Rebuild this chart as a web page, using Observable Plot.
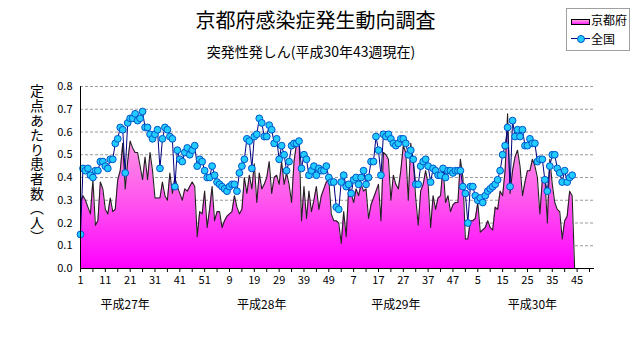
<!DOCTYPE html>
<html><head><meta charset="utf-8">
<script src="https://cdn.jsdelivr.net/npm/d3@7"></script>
<script src="https://cdn.jsdelivr.net/npm/@observablehq/plot@0.6"></script>
<style>
body{margin:0;background:#fff;}
#wrap{position:relative;width:631px;height:347px;font-family:"Noto Sans CJK JP",sans-serif;color:#000;overflow:hidden;}
#title{position:absolute;left:0;width:631px;top:8px;text-align:center;font-size:20px;line-height:24px;}
#subtitle{position:absolute;left:0;width:622px;top:42px;text-align:center;font-size:14px;line-height:18px;}
#ylabel{position:absolute;left:29px;top:84px;writing-mode:vertical-rl;font-size:14px;line-height:16px;letter-spacing:0.6px;}
#legend{position:absolute;left:566px;top:8px;width:62px;height:41px;border:1px solid #a0a0a0;background:#fff;font-size:12px;white-space:nowrap;}
#legend .sw{position:absolute;left:4px;top:10px;width:17px;height:4px;border:1px solid #000;background:linear-gradient(#ffa0e0,#ff20ff);}
#legend .ln{position:absolute;left:4px;top:29px;width:19px;height:1px;background:#000080;}
#legend .dt{position:absolute;left:10px;top:26px;width:6px;height:6px;border-radius:50%;background:#22ccff;border:1px solid #0055cc;}
#legend .t1{position:absolute;left:24px;top:3px;line-height:16px;}
#legend .t2{position:absolute;left:24px;top:22px;line-height:16px;}
#chart{position:absolute;left:0;top:0;}
</style></head><body>
<div id="wrap">
  <div id="chart"></div>
  <div id="title"></div>
  <div id="subtitle"></div>
  <div id="ylabel"></div>
  <div id="legend"><div class="sw"></div><div class="t1"></div><div class="ln"></div><div class="dt"></div><div class="t2"></div></div>
</div>
<script>
const titleText = "京都府感染症発生動向調査";
const subtitleText = "突発性発しん(平成30年43週現在)";
const yLabelText = "定点あたり患者数（人）";
const seriesNames = ["京都府", "全国"];
const yearLabels = ["平成27年", "平成28年", "平成29年", "平成30年"];
const xTickLabels = ["1","11","21","31","41","51","9","19","29","39","49","7","17","27","37","47","5","15","25","35","45"];
const yTickLabels = ["0.0","0.1","0.2","0.3","0.4","0.5","0.6","0.7","0.8"];

// 京都府 weekly values per sentinel, 平成27年第1週 onward (52 weeks per year)
const kyoto = [
0.29,0.32,0.30,0.27,0.24,0.39,0.19,0.21,0.38,0.35,0.26,0.24,0.31,0.25,0.26,0.39,0.43,0.55,0.35,0.47,
0.56,0.53,0.51,0.51,0.45,0.39,0.49,0.39,0.51,0.43,0.31,0.31,0.31,0.38,0.32,0.30,0.42,0.33,0.40,0.36,
0.33,0.30,0.35,0.34,0.36,0.38,0.36,0.14,0.25,0.24,0.34,0.18,0.26,0.36,0.21,0.25,0.25,0.18,0.21,0.23,
0.24,0.25,0.32,0.27,0.24,0.26,0.40,0.33,0.41,0.35,0.46,0.29,0.42,0.35,0.37,0.40,0.47,0.33,0.40,0.41,
0.37,0.47,0.37,0.42,0.37,0.29,0.47,0.55,0.57,0.21,0.36,0.22,0.34,0.25,0.30,0.36,0.26,0.32,0.35,0.38,
0.39,0.24,0.21,0.21,0.20,0.11,0.25,0.14,0.35,0.33,0.29,0.35,0.32,0.37,0.34,0.35,0.22,0.28,0.31,0.34,
0.37,0.21,0.51,0.50,0.48,0.30,0.41,0.37,0.35,0.43,0.54,0.51,0.30,0.55,0.47,0.31,0.19,0.34,0.37,0.43,
0.37,0.18,0.32,0.26,0.31,0.32,0.45,0.29,0.32,0.25,0.28,0.29,0.29,0.48,0.40,0.13,0.13,0.21,0.21,0.22,
0.29,0.16,0.17,0.18,0.21,0.18,0.17,0.27,0.26,0.34,0.32,0.43,0.68,0.33,0.43,0.49,0.52,0.45,0.32,0.38,
0.43,0.43,0.48,0.45,0.40,0.24,0.39,0.40,0.20,0.48,0.37,0.29,0.26,0.25,0.13,0.21,0.23,0.34,0.32,0.00
];

// 全国 weekly values per sentinel
const national = [
0.15,0.44,0.43,0.44,0.41,0.40,0.43,0.43,0.47,0.47,0.45,0.44,0.48,0.48,0.55,0.57,0.62,0.61,0.42,0.64,
0.66,0.66,0.68,0.65,0.66,0.69,0.62,0.62,0.59,0.57,0.59,0.61,0.44,0.57,0.62,0.61,0.58,0.57,0.36,0.52,
0.48,0.47,0.51,0.53,0.50,0.52,0.54,0.45,0.48,0.47,0.43,0.40,0.40,0.45,0.41,0.38,0.37,0.36,0.35,0.34,
0.36,0.37,0.37,0.34,0.42,0.45,0.48,0.57,0.56,0.44,0.58,0.59,0.66,0.64,0.58,0.58,0.63,0.61,0.55,0.57,
0.48,0.54,0.50,0.43,0.47,0.54,0.55,0.55,0.56,0.44,0.50,0.48,0.41,0.43,0.45,0.41,0.44,0.43,0.43,0.45,
0.40,0.38,0.38,0.27,0.26,0.38,0.41,0.36,0.37,0.33,0.39,0.40,0.37,0.40,0.43,0.37,0.40,0.47,0.47,0.58,
0.52,0.41,0.59,0.58,0.59,0.57,0.55,0.54,0.55,0.57,0.57,0.55,0.50,0.52,0.48,0.37,0.37,0.45,0.47,0.48,
0.45,0.38,0.44,0.43,0.41,0.41,0.44,0.40,0.43,0.43,0.42,0.43,0.43,0.43,0.36,0.33,0.20,0.36,0.36,0.32,
0.30,0.31,0.29,0.32,0.34,0.35,0.36,0.37,0.39,0.43,0.50,0.54,0.62,0.36,0.65,0.58,0.61,0.58,0.61,0.54,
0.54,0.57,0.55,0.55,0.47,0.48,0.48,0.39,0.34,0.45,0.50,0.50,0.44,0.42,0.38,0.43,0.38,0.40,0.41
];

// layout constants (week index for year label centres, axis extent)
const yearLabelWeek = [18, 73, 127, 182];
const lastWeekIndex = 207;

const kRows = kyoto.map((v, i) => ({i, v}));
const nRows = national.map((v, i) => ({i, v}));
const yTicks = yTickLabels.map(Number);
const font = '"Noto Sans CJK JP", sans-serif';

const chart = Plot.plot({
  width: 631,
  height: 347,
  marginLeft: 80,
  marginRight: 37,
  marginTop: 86,
  marginBottom: 79,
  style: {fontFamily: font, fontSize: "11px", background: "transparent", color: "#000"},
  x: {domain: [0, lastWeekIndex], ticks: d3.range(0, lastWeekIndex, 5),
      tickFormat: d => d % 10 === 0 ? xTickLabels[d / 10] : "", tickSize: 4, tickPadding: 4, label: null},
  y: {domain: [0, 0.8], ticks: yTicks, tickFormat: d => yTickLabels[Math.round(d * 10)], tickSize: 0, tickPadding: 8, label: null},
  marks: [
    Plot.ruleY(yTicks.filter(d => d > 0), {stroke: "#9a9a9a", strokeDasharray: "3,2", strokeWidth: 1}),
    Plot.areaY(kRows, {x: "i", y: "v", fill: "url(#kgrad)", curve: "linear"}),
    Plot.lineY(kRows, {x: "i", y: "v", stroke: "#222", strokeWidth: 1.1}),
    Plot.lineY(nRows, {x: "i", y: "v", stroke: "#000080", strokeWidth: 1}),
    Plot.dot(nRows, {x: "i", y: "v", r: 3.4, fill: "#22ccff", stroke: "#0055cc", strokeWidth: 1}),
    Plot.ruleX([0], {y1: 0, y2: 0.8, stroke: "#000"}),
    Plot.ruleY([0], {stroke: "#000"}),
    Plot.text(yearLabels, {x: (d, k) => yearLabelWeek[k], frameAnchor: "bottom", dy: 40, fontSize: 12, fill: "#000"})
  ]
});

const ns = "http://www.w3.org/2000/svg";
const ys = chart.scale("y");
const defs = document.createElementNS(ns, "defs");
defs.innerHTML = `<linearGradient id="kgrad" gradientUnits="userSpaceOnUse" x1="0" x2="0" y1="${ys.apply(0.65)}" y2="${ys.apply(0)}">
<stop offset="0" stop-color="#ffa6e2"/><stop offset="0.55" stop-color="#ff55ee"/><stop offset="1" stop-color="#ff00ff"/></linearGradient>`;
chart.prepend(defs);
document.getElementById("chart").appendChild(chart);

document.getElementById("title").textContent = titleText;
document.getElementById("subtitle").textContent = subtitleText;
document.getElementById("ylabel").textContent = yLabelText;
document.querySelector("#legend .t1").textContent = seriesNames[0];
document.querySelector("#legend .t2").textContent = seriesNames[1];
</script>
</body></html>
